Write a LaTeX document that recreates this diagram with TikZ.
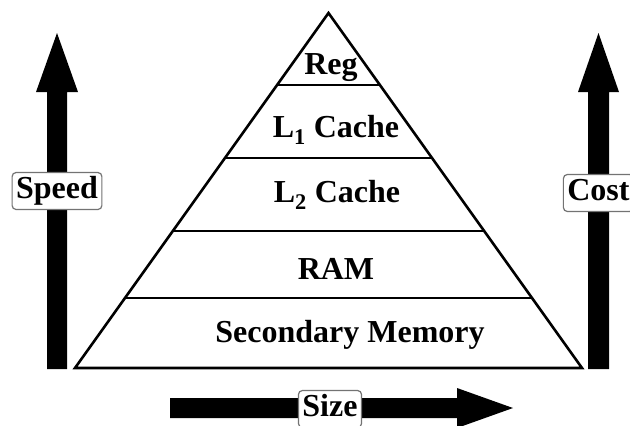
\documentclass[tikz,border=0pt]{standalone}
\usepackage{fontspec}
\setmainfont{Liberation Serif}
\usetikzlibrary{calc}
\begin{document}
\begin{tikzpicture}[x=1pt,y=-1pt,
  lvl/.style={font=\fontsize{32}{36}\selectfont\bfseries, inner sep=0pt},
  tag/.style={draw=black!55, line width=1.2pt, rounded corners=4pt, fill=white,
    font=\fontsize{32}{36}\selectfont\bfseries, inner xsep=4pt, inner ysep=4pt,
    text height=22pt, text depth=7pt},
  blockarrow/.style={fill=black},
  pyr/.style={draw=black, line width=2.6pt, line join=miter}]
\useasboundingbox (0,0) rectangle (630,426);
\fill[white] (0,0) rectangle (630,426);
% pyramid
\coordinate (apex) at (328.5,13);
\coordinate (bl) at (75,368);
\coordinate (br) at (582,368);
\draw[pyr] (bl) -- (apex) -- (br) -- cycle;
\foreach \t/\n in {0.2028/a,0.4085/b,0.6141/c,0.8028/d}{
  \draw[pyr] ($(apex)!\t!(bl)$) coordinate (l\n) -- ($(apex)!\t!(br)$) coordinate (r\n);
}
\node[lvl] (reg) at (331,68) {Reg};
\node[lvl] (l1) at (336,130) {L\textsubscript{1} Cache};
\node[lvl] (l2) at (337,195) {L\textsubscript{2} Cache};
\node[lvl] (ram) at (336,269) {RAM};
\node[lvl] (sec) at (350,335) {Secondary Memory};
% left arrow
\fill[blockarrow] (47,369) -- (47,92) -- (36,92) -- (57,33) -- (78,92) -- (67,92) -- (67,369) -- cycle;
% right arrow
\fill[blockarrow] (588,369) -- (588,92) -- (578,92) -- (598.5,33) -- (619,92) -- (609,92) -- (609,369) -- cycle;
% bottom arrow
\fill[blockarrow] (170,398) -- (457,398) -- (457,388) -- (513,408) -- (457,428) -- (457,418) -- (170,418) -- cycle;
\node[tag] (speed) at (57,191) {Speed};
\node[tag] (cost) at (598.5,193) {Cost};
\node[tag] (size) at (330,409) {Size};
\end{tikzpicture}
\end{document}
